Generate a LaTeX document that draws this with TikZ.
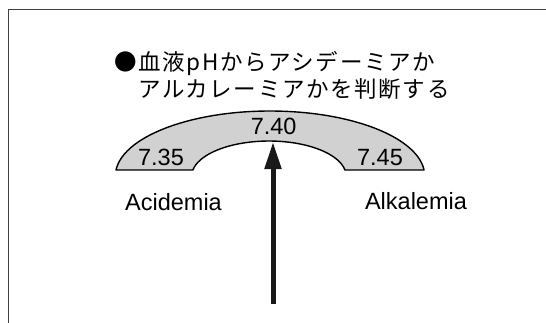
\documentclass[tikz,border=0pt]{standalone}
\usepackage{fontspec}
\setmainfont{Liberation Sans}
\newfontfamily\jpfont[LetterSpace=7.3]{Noto Sans CJK JP}
\usepackage{tikz}
\usetikzlibrary{positioning,arrows.meta}

\begin{document}
\begin{tikzpicture}[x=1pt, y=1pt, >={Triangle[length=27pt,width=16pt]},
    frame/.style={draw=black!75, line width=1.5pt},
    band/.style={draw=black, fill=black!18, line width=1.4pt, line join=round},
    num/.style={inner sep=0pt, anchor=base, font=\fontsize{23.5}{24}\selectfont},
    side/.style={inner sep=0pt, anchor=base, font=\fontsize{23.5}{24}\selectfont},
    title/.style={inner sep=0pt, anchor=base west, font=\fontsize{22.5}{28}\jpfont},
    pointer/.style={->, line width=5pt, draw=black!90}]

\useasboundingbox (0,0) rectangle (546,-322);

% Frame
\draw[frame] (8.5,-330) -- (8.5,-9.5) -- (560,-9.5);

% Title
\node[title] (title1) at (114,-70) {●血液pHからアシデーミアか};
\node[title] (title2) at (114,-97.5) {　アルカレーミアかを判断する};

% Normal range band
\draw[band] (116,-170) arc[start angle=174.7, end angle=5.3, x radius=154.7, y radius=65]
    -- (345,-170) arc[start angle=9.9, end angle=170.1, x radius=77.2, y radius=35] -- cycle;

% Values
\node[num] (mid) at (273.7,-134) {7.40};
\node[num] (low) at (161,-165) {7.35};
\node[num] (high) at (380,-165) {7.45};

% Sides
\node[side] (acid) at (173.5,-210) {Acidemia};
\node[side] (alkali) at (416,-209) {Alkalemia};

% Pointer
\coordinate (base) at (273,-304);
\coordinate (tip) at (273,-142);
\draw[pointer] (base) -- (tip);

\end{tikzpicture}
\end{document}
